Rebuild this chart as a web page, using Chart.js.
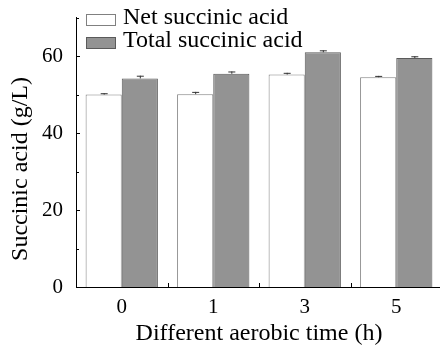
<!DOCTYPE html>
<html>
<head>
<meta charset="utf-8">
<script src="https://cdn.jsdelivr.net/npm/chart.js@4.4.1/dist/chart.umd.min.js"></script>
<style>
  html, body { margin: 0; padding: 0; background: #fff; overflow: hidden; }
  #wrap { width: 446px; height: 348px; }
</style>
</head>
<body>
<div id="wrap"><canvas id="barChart" width="446" height="348"></canvas></div>
<script>
// data
var times       = ['0', '1', '3', '5'];
var netAcid     = [50.0, 50.1, 55.2, 54.5];
var netErr      = [0.35, 0.6, 0.45, 0.35];
var totalAcid   = [54.2, 55.4, 61.0, 59.5];
var totalErr    = [0.7, 0.6, 0.5, 0.45];
var yTicks      = [0, 20, 40, 60];
var yMinorTicks = [10, 30, 50, 70];

var serif = '"Liberation Serif", "Times New Roman", serif';

// error bars, inward axis ticks, legend and y title
var decorPlugin = {
    id: 'decor',
    afterDatasetsDraw: function(chart) {
        var ctx = chart.ctx;
        var ys  = chart.scales.y;
        var xs  = chart.scales.x;
        var area = chart.chartArea;
        var errs = [netErr, totalErr];

        ctx.save();
        // error bars
        chart.data.datasets.forEach(function(ds, d) {
            var meta = chart.getDatasetMeta(d);
            meta.data.forEach(function(bar, i) {
                var top = ys.getPixelForValue(ds.data[i] + errs[d][i]);
                ctx.strokeStyle = '#333';
                ctx.lineWidth = 1;
                ctx.beginPath();
                ctx.moveTo(bar.x + 0.5, bar.y);
                ctx.lineTo(bar.x + 0.5, top);
                ctx.moveTo(bar.x - 3, top + 0.5);
                ctx.lineTo(bar.x + 4, top + 0.5);
                ctx.stroke();
            });
        });

        // inward ticks on y axis
        ctx.strokeStyle = '#000';
        ctx.lineWidth = 1;
        ctx.beginPath();
        yTicks.forEach(function(v) {
            var p = Math.round(ys.getPixelForValue(v)) + 0.5;
            ctx.moveTo(area.left, p);
            ctx.lineTo(area.left + 4, p);
        });
        yMinorTicks.forEach(function(v) {
            var p = Math.round(ys.getPixelForValue(v)) + 0.5;
            ctx.moveTo(area.left, p);
            ctx.lineTo(area.left + 3, p);
        });
        // inward ticks between categories on x axis
        for (var i = 0; i < times.length - 1; i++) {
            var px = Math.round((xs.getPixelForValue(i) + xs.getPixelForValue(i + 1)) / 2) + 0.5;
            ctx.moveTo(px, area.bottom);
            ctx.lineTo(px, area.bottom - 4);
        }
        ctx.stroke();

        // legend
        ctx.font = '24px ' + serif;
        ctx.textBaseline = 'middle';
        chart.data.datasets.forEach(function(ds, d) {
            var by = 14 + d * 23;
            ctx.fillStyle = ds.backgroundColor;
            ctx.fillRect(86, by, 30, 12);
            ctx.strokeStyle = ds.borderColor;
            ctx.strokeRect(86.5, by + 0.5, 29, 11);
            ctx.fillStyle = '#000';
            ctx.fillText(ds.label, 123, by + 4);
        });

        // y axis title
        ctx.translate(21, 169);
        ctx.rotate(-Math.PI / 2);
        ctx.textAlign = 'center';
        ctx.fillText('Succinic acid (g/L)', 0, 0);
        ctx.restore();
    }
};

var barChartData = {
    labels: times,
    datasets: [
        {
            label          : 'Net succinic acid',
            data           : netAcid,
            backgroundColor: '#ffffff',
            borderColor    : '#808080',
            borderWidth    : 1
        },
        {
            label          : 'Total succinic acid',
            data           : totalAcid,
            backgroundColor: '#939393',
            borderColor    : '#5a5a5a',
            borderWidth    : 1
        }
    ]
};

var barChartOptions = {
    responsive : false,
    animation  : false,
    layout     : { padding: { top: 10, right: 4, left: 0, bottom: 0 } },
    categoryPercentage: 0.79,
    barPercentage     : 1.0,
    plugins: {
        legend : { display: false },
        tooltip: { enabled: false }
    },
    scales: {
        x: {
            grid  : { display: false },
            border: { display: true, color: '#000', width: 1 },
            ticks : { color: '#000', font: { family: serif, size: 21 }, padding: 0 },
            title : {
                display: true,
                text   : 'Different aerobic time (h)',
                color  : '#000',
                font   : { family: serif, size: 24 },
                padding: { top: 0, bottom: 0 }
            },
            afterFit: function(scale) { scale.height = 61; }
        },
        y: {
            min   : 0,
            max   : 70,
            grid  : { display: false },
            border: { display: true, color: '#000', width: 1 },
            ticks : { color: '#000', font: { family: serif, size: 21 }, padding: 5 },
            afterBuildTicks: function(scale) {
                scale.ticks = yTicks.map(function(v) { return { value: v }; });
            },
            afterFit: function(scale) { scale.width = 76; }
        }
    }
};

var barChart = new Chart(document.getElementById('barChart').getContext('2d'), {
    type   : 'bar',
    data   : barChartData,
    options: barChartOptions,
    plugins: [decorPlugin]
});
</script>
</body>
</html>
